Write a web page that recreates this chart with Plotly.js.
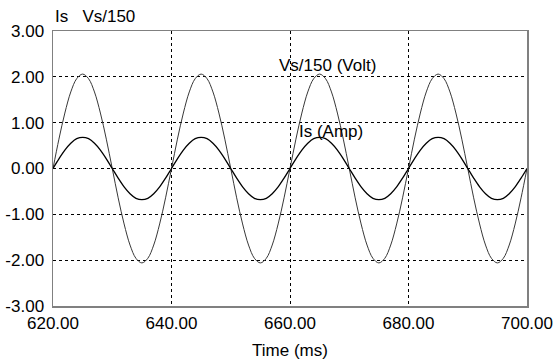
<!DOCTYPE html>
<html>
<head>
<meta charset="utf-8">
<script src="https://cdn.plot.ly/plotly-3.0.1.min.js"></script>
<style>html,body{margin:0;padding:0;background:#fff;}#chart{width:553px;height:363px;}</style>
</head>
<body>
<div id="chart"></div>
<script>
// Time (ms), 1 ms steps
const timeMs = [620,621,622,623,624,625,626,627,628,629,630,631,632,633,634,635,636,637,638,639,
640,641,642,643,644,645,646,647,648,649,650,651,652,653,654,655,656,657,658,659,
660,661,662,663,664,665,666,667,668,669,670,671,672,673,674,675,676,677,678,679,
680,681,682,683,684,685,686,687,688,689,690,691,692,693,694,695,696,697,698,699,700];
// Vs/150 (Volt)
const vsVolt = [0,0.64,1.21,1.67,1.96,2.06,1.96,1.67,1.21,0.64,0,-0.64,-1.21,-1.67,-1.96,-2.06,-1.96,-1.67,-1.21,-0.64,
0,0.64,1.21,1.67,1.96,2.06,1.96,1.67,1.21,0.64,0,-0.64,-1.21,-1.67,-1.96,-2.06,-1.96,-1.67,-1.21,-0.64,
0,0.64,1.21,1.67,1.96,2.06,1.96,1.67,1.21,0.64,0,-0.64,-1.21,-1.67,-1.96,-2.06,-1.96,-1.67,-1.21,-0.64,
0,0.64,1.21,1.67,1.96,2.06,1.96,1.67,1.21,0.64,0,-0.64,-1.21,-1.67,-1.96,-2.06,-1.96,-1.67,-1.21,-0.64,0];
// Is (Amp)
const isAmp = [0,0.21,0.40,0.55,0.65,0.68,0.65,0.55,0.40,0.21,0,-0.21,-0.40,-0.55,-0.65,-0.68,-0.65,-0.55,-0.40,-0.21,
0,0.21,0.40,0.55,0.65,0.68,0.65,0.55,0.40,0.21,0,-0.21,-0.40,-0.55,-0.65,-0.68,-0.65,-0.55,-0.40,-0.21,
0,0.21,0.40,0.55,0.65,0.68,0.65,0.55,0.40,0.21,0,-0.21,-0.40,-0.55,-0.65,-0.68,-0.65,-0.55,-0.40,-0.21,
0,0.21,0.40,0.55,0.65,0.68,0.65,0.55,0.40,0.21,0,-0.21,-0.40,-0.55,-0.65,-0.68,-0.65,-0.55,-0.40,-0.21,0];

const xTickVals = [620,640,660,680,700];
const xTickText = ["620.00","640.00","660.00","680.00","700.00"];
const yTickVals = [-3,-2,-1,0,1,2,3];
const yTickText = ["-3.00","-2.00","-1.00","0.00","1.00","2.00","3.00"];

const FONT = "Arial, 'Liberation Sans', sans-serif";
const FS = 17;

const traces = [
  {x: timeMs, y: vsVolt, type: 'scatter', mode: 'lines', name: 'Vs/150 (Volt)',
   line: {color: '#383838', width: 1, shape: 'spline'}},
  {x: timeMs, y: isAmp, type: 'scatter', mode: 'lines', name: 'Is (Amp)',
   line: {color: '#000000', width: 1.3, shape: 'spline'}}
];

const layout = {
  width: 553, height: 363,
  margin: {l: 53, r: 26, t: 31, b: 57},
  paper_bgcolor: '#ffffff', plot_bgcolor: '#ffffff',
  showlegend: false,
  font: {family: FONT, size: FS, color: '#000'},
  xaxis: {
    range: [620, 700], tickvals: xTickVals, ticktext: xTickText,
    showgrid: true, gridcolor: '#000', griddash: 'dot', gridwidth: 1,
    zeroline: false, showline: true, linecolor: '#808080', linewidth: 1.5, mirror: true,
    ticks: '', ticklabelstandoff: 1, tickfont: {family: FONT, size: FS, color: '#000'},
    title: {text: 'Time (ms)', font: {family: FONT, size: FS, color: '#000'}, standoff: 12}
  },
  yaxis: {
    range: [-3, 3], tickvals: yTickVals, ticktext: yTickText,
    showgrid: true, gridcolor: '#000', griddash: 'dot', gridwidth: 1,
    zeroline: false, showline: true, linecolor: '#808080', linewidth: 1.5, mirror: true,
    ticks: '', ticklabelstandoff: 4, tickfont: {family: FONT, size: FS, color: '#000'}
  },
  annotations: [
    {xref: 'paper', yref: 'paper', x: 0, y: 1, xanchor: 'left', yanchor: 'middle', yshift: 15,
     text: 'Is&nbsp;&nbsp;&nbsp;Vs/150', showarrow: false, font: {family: FONT, size: FS, color: '#000'}},
    {x: 666.4, y: 2.24, text: 'Vs/150 (Volt)', showarrow: false, font: {family: FONT, size: FS, color: '#000'}},
    {x: 666.9, y: 0.80, text: 'Is (Amp)', showarrow: false, font: {family: FONT, size: FS, color: '#000'}}
  ]
};

Plotly.newPlot('chart', traces, layout, {displayModeBar: false, staticPlot: true});
</script>
</body>
</html>
